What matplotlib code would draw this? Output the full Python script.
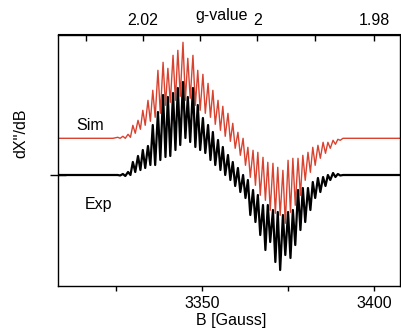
import matplotlib.pyplot as plt
from matplotlib.ticker import FixedLocator, NullFormatter

plt.rcParams['font.family'] = ['Liberation Sans', 'DejaVu Sans']

# field positions of the turning points (peak, trough, peak, ...) in Gauss
field = [3308.0, 3324.0,
         3325.4, 3326.1, 3326.9, 3327.6, 3328.4, 3329.1, 3329.8, 3330.5,
         3331.3, 3332.0, 3332.7, 3333.4, 3334.2, 3334.9, 3335.6, 3336.3,
         3337.1, 3337.8, 3338.6, 3339.3, 3340.0, 3340.7, 3341.5, 3342.2,
         3342.9, 3343.6, 3344.4, 3345.1, 3345.8, 3346.5, 3347.3, 3348.0,
         3348.7, 3349.4, 3350.2, 3350.9, 3351.7, 3352.4, 3353.1, 3353.8,
         3354.6, 3355.3, 3356.0, 3356.7, 3357.5, 3358.2, 3358.9, 3359.6,
         3360.4, 3361.1, 3361.9, 3362.6, 3363.3, 3364.0, 3364.8, 3365.5,
         3366.2, 3366.9, 3367.7, 3368.4, 3369.1, 3369.8, 3370.6, 3371.3,
         3372.0, 3372.7, 3373.5, 3374.2, 3375.0, 3375.7, 3376.4, 3377.1,
         3377.9, 3378.6, 3379.3, 3380.0, 3380.8, 3381.5, 3382.2, 3382.9,
         3383.7, 3384.4, 3385.2, 3385.9, 3386.6, 3387.3, 3388.1, 3388.8,
         3389.5, 3390.2,
         3391.0, 3407.6]

# experimental derivative spectrum (arb. units, baseline = 0)
exp_signal = [0, 0,
              0, -0.5, 1, -1, 3, 0, 13, 3,
              19, 5, 25, 7, 29, 10, 50, 10,
              63, 15, 80, 18, 78, 19, 82, 25,
              87, 30, 93, 37, 78, 33, 87, 28,
              70, 25, 57, 22, 50, 15, 43, 10,
              35, 5, 28, 0, 20, -5, 13, -11,
              7, -17, 0, -23, -5, -40, -15, -47,
              -20, -60, -30, -75, -30, -67, -35, -87,
              -37, -95, -40, -80, -37, -83, -35, -70,
              -15, -55, -13, -47, -13, -35, -7, -23,
              -3, -17, -2, -11, 0, -5, 2, -2,
              1, -0.5,
              0, 0]

# simulated spectrum (arb. units, own baseline = 0)
sim_signal = [0, 0,
              1, 0, 2, 0, 4, 1, 13, 5,
              18, 9, 28, 13, 38, 17, 48, 21,
              68, 25, 76, 33, 70, 36, 83, 38,
              88, 42, 96, 38, 80, 40, 83, 33,
              68, 28, 64, 25, 55, 21, 48, 14,
              38, 8, 32, 2, 25, -3, 15, -10,
              6, -17, 0, -27, -9, -39, -12, -47,
              -14, -57, -19, -62, -24, -72, -25, -75,
              -29, -77, -32, -85, -22, -74, -20, -67,
              -20, -57, -17, -42, -14, -34, -9, -27,
              -7, -20, -4, -15, -4, -10, -2, -6,
              -1, -2,
              0, 0]

SIM_OFFSET = 36.7
G_CONST = 6732.0  # g * B at this microwave frequency


def b_to_g(b):
    return G_CONST / b


fig = plt.figure(figsize=(4.01, 3.29), dpi=100)
ax = fig.add_axes([58 / 401, 43 / 329, 342 / 401, 251.5 / 329])

sim_shifted = [v + SIM_OFFSET for v in sim_signal]
ax.plot(field, sim_shifted, color='#d8422f', linewidth=1.0)
ax.plot(field, exp_signal, color='black', linewidth=1.6)

ax.set_xlim(3308.0, 3407.6)
ax.set_ylim(-111, 140.5)

ax.text(3317.3, 49, 'Sim', fontsize=11.5, ha='center', va='center')
ax.text(3319.8, -30, 'Exp', fontsize=11.5, ha='center', va='center')

ax.xaxis.set_major_locator(FixedLocator([3350, 3400]))
ax.xaxis.set_minor_locator(FixedLocator([3325, 3375]))
ax.tick_params(axis='x', which='both', direction='out', length=3.5, width=1, labelsize=11.5, pad=4)

ax.set_yticks([0])
ax.yaxis.set_major_formatter(NullFormatter())
ax.tick_params(axis='y', direction='inout', length=11, width=1)

top = ax.secondary_xaxis('top', functions=(b_to_g, b_to_g))
top.xaxis.set_major_locator(FixedLocator([2.02, 2.0, 1.98]))
top.xaxis.set_minor_locator(FixedLocator([2.03, 2.01, 1.99]))
top.set_xticklabels(['2.02', '2', '1.98'])
top.tick_params(axis='x', which='both', direction='in', length=5, width=1, labelsize=11.5, pad=5)

for sp in ax.spines.values():
    sp.set_linewidth(1.0)

fig.text(222 / 401, 1 - 15.5 / 329, 'g-value', fontsize=11.5, ha='center', va='center')
fig.text(231 / 401, 1 - 320 / 329, 'B [Gauss]', fontsize=11.5, ha='center', va='center')
fig.text(21 / 401, 1 - 133 / 329, "dX''/dB", fontsize=11.5, ha='center', va='center', rotation=90)

fig.savefig('out.png', dpi=100)
